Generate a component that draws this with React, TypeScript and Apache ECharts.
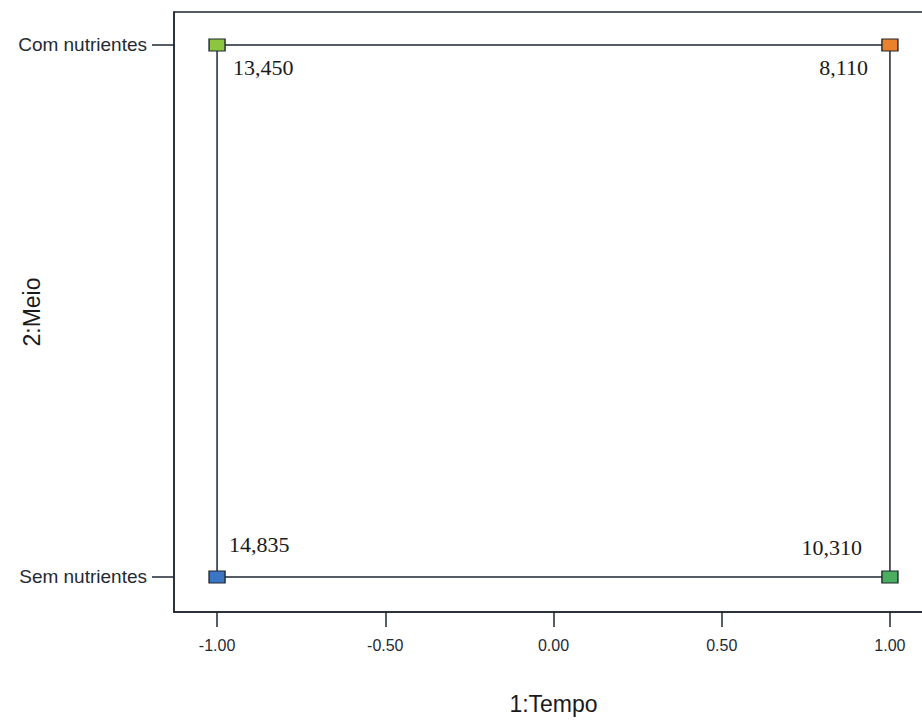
import React, { useEffect, useRef } from "react";
import * as echarts from "echarts";

// Factor levels
const meioLevels = ["Sem nutrientes", "Com nutrientes"];
const tempoTicks = [-1, -0.5, 0, 0.5, 1];

// Cube-plot corners: coded Tempo, Meio level index, fitted mean
const cornerTempo = [-1, 1, -1, 1];
const cornerMeio = [1, 1, 0, 0];
const cornerMean = [13.45, 8.11, 14.835, 10.31];
const cornerColors = ["#8cc63e", "#e9822b", "#3b76c4", "#4bad5e"];

// Edge order around the square (by corner index)
const edgeOrder = [0, 1, 3, 2, 0];

const fmtMean = (v: number) => v.toFixed(3).replace(".", ",");
const fmtTick = (v: number) => v.toFixed(2);

const ink = "#1e2730";

export default function App() {
  const ref = useRef<HTMLDivElement>(null);

  useEffect(() => {
    if (!ref.current) return;
    const chart = echarts.init(ref.current, null, { renderer: "svg" });

    const labelPlacement = [
      { align: "left", offset: [16, 23] },
      { align: "right", offset: [-22, 23] },
      { align: "left", offset: [12, -32] },
      { align: "right", offset: [-28, -29] },
    ];

    chart.setOption({
      animation: false,
      backgroundColor: "#ffffff",
      grid: {
        left: 174,
        top: 12,
        bottom: 108,
        right: -11,
        containLabel: false,
        outerBoundsMode: "none",
        show: true,
        borderColor: ink,
        borderWidth: 1.5,
        backgroundColor: "transparent",
      },
      xAxis: {
        type: "value",
        min: -1.128,
        max: 1.128,
        name: "1:Tempo",
        nameLocation: "middle",
        nameGap: 80,
        nameTextStyle: { fontFamily: "Liberation Sans", fontSize: 23, color: "#1a1a1a" },
        splitLine: { show: false },
        axisLine: { show: true, onZero: false, lineStyle: { color: ink, width: 1.5 } },
        axisTick: {
          show: true,
          length: 15,
          customValues: tempoTicks,
          lineStyle: { color: ink, width: 1.5 },
        },
        axisLabel: {
          customValues: tempoTicks,
          formatter: (v: number) => fmtTick(v),
          margin: 25,
          fontFamily: "Liberation Sans",
          fontSize: 16,
          color: "#1f2a33",
        },
      },
      yAxis: {
        type: "value",
        min: -0.0658,
        max: 1.062,
        name: "2:Meio",
        nameLocation: "middle",
        nameGap: 131,
        nameMoveOverlap: false,
        nameTextStyle: { fontFamily: "Liberation Sans", fontSize: 23, color: "#1a1a1a" },
        splitLine: { show: false },
        axisLine: { show: true, onZero: false, lineStyle: { color: ink, width: 1.5 } },
        axisTick: {
          show: true,
          length: 22,
          customValues: [0, 1],
          lineStyle: { color: ink, width: 1.5 },
        },
        axisLabel: {
          customValues: [0, 1],
          formatter: (v: number) => meioLevels[Math.round(v)] ?? "",
          margin: 27,
          fontFamily: "Liberation Sans",
          fontSize: 19,
          color: "#1f2a33",
        },
      },
      series: [
        {
          type: "line",
          data: edgeOrder.map((i) => [cornerTempo[i], cornerMeio[i]]),
          symbol: "none",
          lineStyle: { color: ink, width: 1.5 },
          silent: true,
          z: 2,
        },
        {
          type: "scatter",
          symbol: "rect",
          symbolSize: [16, 12],
          z: 3,
          data: cornerTempo.map((t, i) => ({
            value: [t, cornerMeio[i], cornerMean[i]],
            itemStyle: {
              color: cornerColors[i],
              borderColor: ink,
              borderWidth: 1.2,
              opacity: 1,
            },
            label: {
              show: true,
              position: "inside",
              verticalAlign: "middle",
              align: labelPlacement[i].align,
              offset: labelPlacement[i].offset,
              formatter: () => fmtMean(cornerMean[i]),
              fontFamily: "Liberation Serif",
              fontSize: 22,
              color: "#1a1a1a",
            },
          })),
        },
      ],
    });

    return () => chart.dispose();
  }, []);

  return (
    <div
      ref={ref}
      style={{ position: "absolute", left: 0, top: 0, width: 922, height: 720 }}
    />
  );
}
